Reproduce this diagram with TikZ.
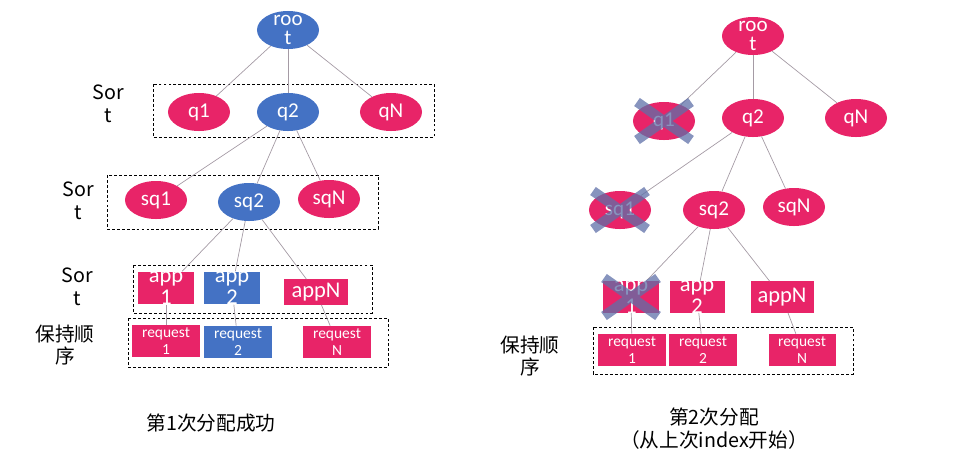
\documentclass[tikz,border=0pt]{standalone}
\usepackage{fontspec}
\setmainfont{Carlito}
\newfontfamily\cjk{Noto Sans CJK SC}
\usetikzlibrary{shapes.geometric, calc}
\definecolor{rose}{RGB}{232,36,104}
\definecolor{steel}{RGB}{68,114,196}
\definecolor{crossblue}{RGB}{95,112,168}
\definecolor{linkgray}{RGB}{165,155,165}

\begin{document}
\begin{tikzpicture}[x=0.025cm, y=-0.025cm,
  oval/.style={ellipse, minimum width=1.55cm, minimum height=0.95cm, inner xsep=0pt, inner ysep=-10pt,
    text=white, align=center, font=\fontsize{15}{14}\selectfont},
  ovr/.style={oval, fill=rose},
  ovb/.style={oval, fill=steel},
  appbox/.style={rectangle, minimum width=1.375cm, minimum height=0.82cm, inner xsep=0pt, inner ysep=-8pt,
    text=white, align=center, font=\fontsize{16}{16}\selectfont},
  reqbox/.style={rectangle, minimum width=1.675cm, minimum height=0.8cm, inner xsep=0pt, inner ysep=-4pt,
    text=white, align=center, font=\fontsize{11}{12}\selectfont},
  grp/.style={draw, line width=0.6pt, dash pattern=on 2pt off 1.5pt},
  side/.style={align=center, font=\cjk\fontsize{14}{16}\selectfont},
  caption/.style={align=center, font=\cjk\fontsize{14}{16.5}\selectfont},
  link/.style={draw=linkgray, line width=0.5pt},
  xmark/.style={draw=crossblue, opacity=.75, line width=7pt}]
  \useasboundingbox (0,0) rectangle (954,468);

  % first allocation
  \draw[grp] (153,84) rectangle (434,137);
  \draw[grp] (107,175) rectangle (378,229);
  \draw[grp] (133,265) rectangle (372,313);
  \draw[grp] (128,318) rectangle (388,367);
  \node[ovb] (aroot) at (288,30) {roo\\t};
  \node[ovr] (aq1) at (199,112) {q1};
  \node[ovb] (aq2) at (288,112) {q2};
  \node[ovr] (aqN) at (391,112) {qN};
  \node[ovr] (asq1) at (156,200) {sq1};
  \node[ovb] (asq2) at (249,202) {sq2};
  \node[ovr] (asqN) at (329,199) {sqN};
  \node[appbox, fill=rose] (aapp1) at (166,288) {app\\1};
  \node[appbox, fill=steel] (aapp2) at (232,288) {app\\2};
  \node[appbox, fill=rose, minimum width=1.6cm, minimum height=0.63cm] (aappN) at (316,292) {appN};
  \node[reqbox, fill=rose] (areq1) at (166,341) {request\\1};
  \node[reqbox, fill=steel] (areq2) at (238,342) {request\\2};
  \node[reqbox, fill=rose] (areqN) at (337,342) {request\\N};
  \draw[link] (aroot)--(aq1); \draw[link] (aroot)--(aq2); \draw[link] (aroot)--(aqN);
  \draw[link] (aq2)--(asq1); \draw[link] (aq2)--(asq2); \draw[link] (aq2)--(asqN);
  \draw[link] (asq2)--(aapp1); \draw[link] (asq2)--(aapp2); \draw[link] (asq2)--(aappN);
  \draw[link] (aapp1)--(areq1); \draw[link] (aapp2)--(areq2); \draw[link] (aappN)--(areqN);
  \node[side] (asort1) at (108,104) {Sor\\t};
  \node[side] (asort2) at (78,201) {Sor\\t};
  \node[side] (asort3) at (77,287) {Sor\\t};
  \node[side] (akeep) at (65,345) {保持顺\\序};
  \node[caption] (acap) at (211,423) {第1次分配成功};

  % second allocation
  \draw[grp] (593,327) rectangle (853,374);
  \node[ovr] (broot) at (753,36) {roo\\t};
  \node[ovr] (bq1) at (664,121) {q1};
  \node[ovr] (bq2) at (753,118) {q2};
  \node[ovr] (bqN) at (856,118) {qN};
  \node[ovr] (bsq1) at (620,210) {sq1};
  \node[ovr] (bsq2) at (714,210) {sq2};
  \node[ovr] (bsqN) at (794,207) {sqN};
  \node[appbox, fill=rose, minimum height=0.78cm] (bapp1) at (631,297) {app\\1};
  \node[appbox, fill=rose, minimum height=0.78cm] (bapp2) at (697,297) {app\\2};
  \node[appbox, fill=rose, minimum width=1.575cm, minimum height=0.78cm] (bappN) at (782,297) {appN};
  \node[reqbox, fill=rose] (breq1) at (632,350) {request\\1};
  \node[reqbox, fill=rose] (breq2) at (703,350) {request\\2};
  \node[reqbox, fill=rose] (breqN) at (802,350) {request\\N};
  \draw[link] (broot)--(bq1); \draw[link] (broot)--(bq2); \draw[link] (broot)--(bqN);
  \draw[link] (bq2)--(bsq1); \draw[link] (bq2)--(bsq2); \draw[link] (bq2)--(bsqN);
  \draw[link] (bsq2)--(bapp1); \draw[link] (bsq2)--(bapp2); \draw[link] (bsq2)--(bappN);
  \draw[link] (bapp1)--(breq1); \draw[link] (bapp2)--(breq2); \draw[link] (bappN)--(breqN);
  \foreach \n in {bq1, bsq1, bapp1}
    \draw[xmark] ($(\n)+(-27,-19)$) -- ($(\n)+(27,19)$) ($(\n)+(-27,19)$) -- ($(\n)+(27,-19)$);
  \node[side] (bkeep) at (530,356) {保持顺\\序};
  \node[caption] (bcap) at (714,429) {第2次分配\\（从上次index开始）};
\end{tikzpicture}
\end{document}
